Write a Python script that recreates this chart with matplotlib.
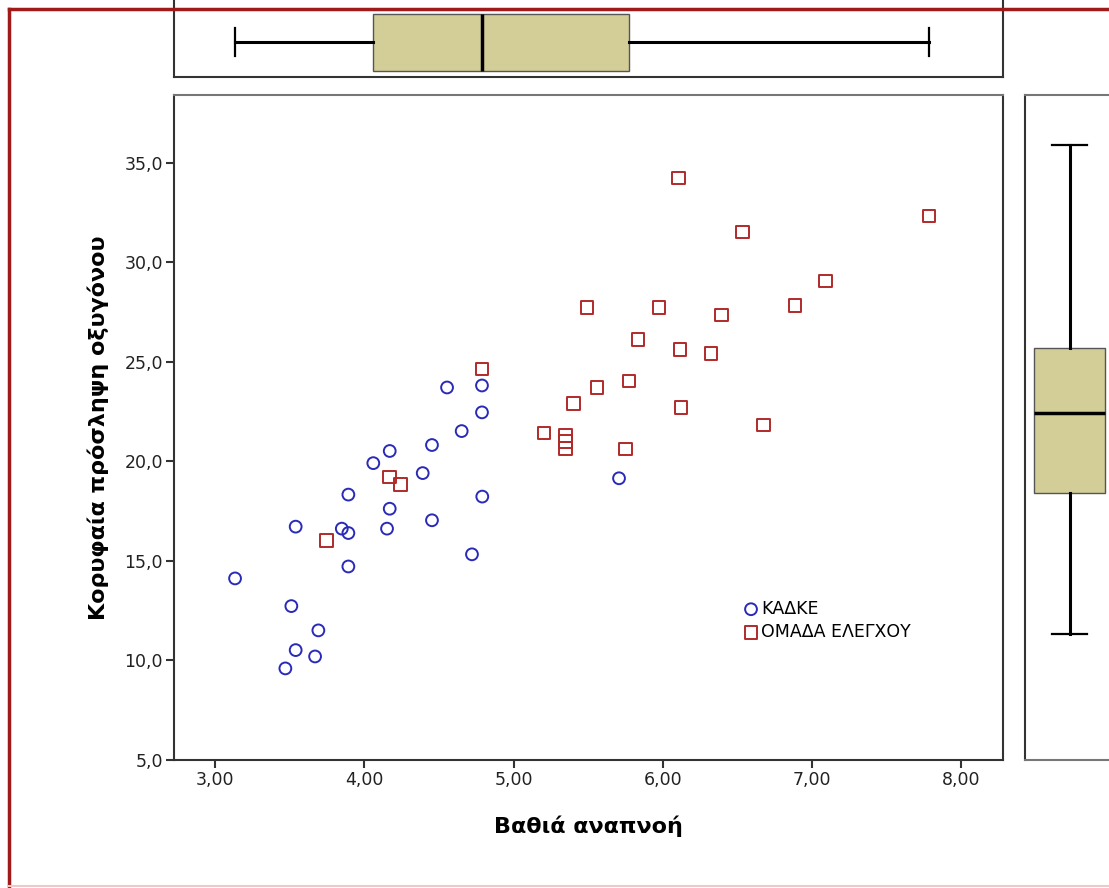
import matplotlib
matplotlib.use("Agg")
from matplotlib import pyplot as plt
from matplotlib import cbook
from matplotlib.lines import Line2D
import numpy as np

plt.rcParams['font.family'] = ['DejaVu Sans']

# ΚΑΔΚΕ group
kadke_x = [3.134, 3.511, 3.692, 3.540, 3.670, 3.471, 3.540, 3.849, 3.893, 3.893,
           3.893, 4.060, 4.170, 4.170, 4.152, 4.391, 4.453, 4.453, 4.652, 4.790,
           4.721, 4.554, 4.788, 4.788, 5.706]
kadke_y = [14.12, 12.73, 11.51, 10.52, 10.20, 9.60, 16.72, 16.62, 16.40, 14.72,
           18.33, 19.91, 20.52, 17.62, 16.62, 19.41, 20.82, 17.04, 21.52, 18.23,
           15.33, 23.71, 23.81, 22.46, 19.15]

# ΟΜΑΔΑ ΕΛΕΓΧΟΥ group
ctrl_x = [3.748, 4.170, 4.244, 4.788, 5.204, 5.349, 5.349, 5.349, 6.103, 6.532,
          7.782, 7.090, 6.885, 5.492, 5.974, 6.391, 5.833, 6.115, 6.322, 5.559,
          5.773, 5.402, 6.121, 6.675, 5.751]
ctrl_y = [16.03, 19.21, 18.83, 24.63, 21.42, 21.30, 21.00, 20.64, 34.24, 31.52,
          32.33, 29.05, 27.84, 27.74, 27.74, 27.34, 26.13, 25.63, 25.43, 23.72,
          24.04, 22.91, 22.71, 21.82, 20.62]

group_names = ['ΚΑΔΚΕ', 'ΟΜΑΔΑ ΕΛΕΓΧΟΥ']
x_ticks = [3, 4, 5, 6, 7, 8]
y_ticks = [5, 10, 15, 20, 25, 30, 35]

W, H = 1109, 888
fig = plt.figure(figsize=(W / 100, H / 100), dpi=100)

def frac(x0, y0, x1, y1):
    # pixel box (top-left origin) -> figure fraction rect
    return [x0 / W, 1 - y1 / H, (x1 - x0) / W, (y1 - y0) / H]

def tukey_stats(values):
    # SPSS style boxes: Tukey hinges instead of linear percentiles
    st = cbook.boxplot_stats(values)[0]
    st['q1'] = np.percentile(values, 25, method='lower')
    st['q3'] = np.percentile(values, 75, method='higher')
    st['whislo'] = np.min(values)
    st['whishi'] = np.max(values)
    st['fliers'] = []
    return [st]

ax = fig.add_axes(frac(174, 95, 1003, 760))
ax_top = fig.add_axes(frac(174, 0, 1003, 77))
ax_right = fig.add_axes(frac(1025, 95, 1130, 760))

blue = '#2a2ab8'
red = '#b02a2a'
ax.scatter(kadke_x, kadke_y, s=72, marker='o', facecolors='none',
           edgecolors=blue, linewidths=1.4, label=group_names[0], zorder=3)
ax.scatter(ctrl_x, ctrl_y, s=82, marker='s', facecolors='none',
           edgecolors=red, linewidths=1.4, label=group_names[1], zorder=3)

ax.set_xlim(2.725, 8.278)
ax.set_ylim(5.0, 38.4)
ax.set_xticks(x_ticks)
ax.set_yticks(y_ticks)
ax.set_xticklabels([f"{v:.2f}".replace('.', ',') for v in x_ticks])
ax.set_yticklabels([f"{v:.1f}".replace('.', ',') for v in y_ticks])
ax.tick_params(axis='both', direction='out', length=6, width=1.5,
               labelsize=12.5, colors='#333333', labelcolor='#222222', pad=2)
ax.set_xlabel('Βαθιά αναπνοή', fontsize=16, fontweight='bold', labelpad=19)
ax.set_ylabel('Κορυφαία πρόσληψη οξυγόνου', fontsize=16, fontweight='bold',
              labelpad=11)

leg = ax.legend(loc='upper left', bbox_to_anchor=(0.673, 0.254), frameon=False,
                fontsize=12.5, handletextpad=0.0, labelspacing=0.3,
                borderpad=0, handlelength=1.2)

box_style = dict(
    widths=1, patch_artist=True, capwidths=0.5,
    boxprops=dict(facecolor='#d3ce98', edgecolor='#555555', linewidth=1),
    medianprops=dict(color='black', linewidth=2.5),
    whiskerprops=dict(color='black', linewidth=2.2),
    capprops=dict(color='black', linewidth=1.6),
    showfliers=False,
)

all_x = np.array(kadke_x + ctrl_x)
all_y = np.array(kadke_y + ctrl_y)

ax_top.bxp(tukey_stats(all_x), vert=False, positions=[0], **box_style)
ax_top.set_xlim(ax.get_xlim())
ax_top.set_ylim(-0.614, 0.737)

ax_right.bxp(tukey_stats(all_y), vert=True, positions=[0], **box_style)
ax_right.set_ylim(3.26, 36.76)
ax_right.set_xlim(-0.627, 0.852)

for a in (ax, ax_top, ax_right):
    for sp in a.spines.values():
        sp.set_color('#333333')
        sp.set_linewidth(1.5)
    a.spines['top'].set_color('#777777')

for a in (ax_top, ax_right):
    a.set_xticks([])
    a.set_yticks([])
ax_top.spines['top'].set_visible(False)
ax_right.spines['right'].set_visible(False)
ax_right.spines['bottom'].set_color('#777777')

# outer frame of the output window
fig.add_artist(Line2D([9 / W, 9 / W], [0, 1 - 9 / H], color='#a01a1a', lw=2.5))
fig.add_artist(Line2D([9 / W, 1], [1 - 9 / H, 1 - 9 / H], color='#a01a1a', lw=2.5))
fig.add_artist(Line2D([9 / W, 1], [2 / H, 2 / H], color='#f0c8c8', lw=1.5))

fig.savefig('out.png', dpi=100)
